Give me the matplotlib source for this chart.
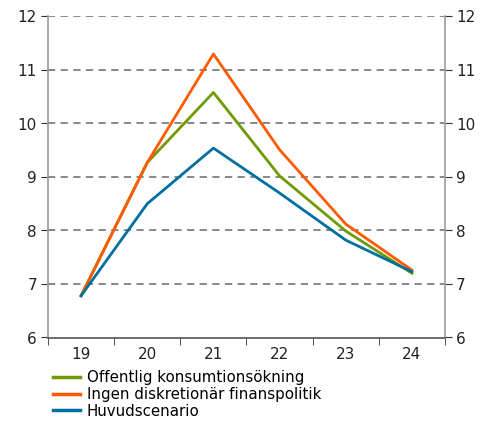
import matplotlib
matplotlib.use("Agg")
import matplotlib.pyplot as plt
from matplotlib.lines import Line2D

years = ["19", "20", "21", "22", "23", "24"]
offentlig = [6.78, 9.27, 10.58, 9.02, 7.99, 7.20]
ingen = [6.78, 9.27, 11.30, 9.51, 8.12, 7.26]
huvud = [6.78, 8.50, 9.54, 8.70, 7.82, 7.23]

series = [
    ("Offentlig konsumtionsökning", offentlig, "#6f9a00"),
    ("Ingen diskretionär finanspolitik", ingen, "#ff5a00"),
    ("Huvudscenario", huvud, "#00709f"),
]

plt.rcParams["font.family"] = ["DejaVu Sans"]
fig = plt.figure(figsize=(4.89, 4.23), dpi=100)
ax = fig.add_axes([48 / 489, 1 - 337.5 / 423, 397 / 489, 321 / 423])

x = list(range(len(years)))
for label, vals, color in series:
    ax.plot(x, vals, color=color, lw=2.0, label=label, zorder=3)

ax.set_xlim(-0.5, len(years) - 0.5)
ax.set_ylim(6, 12)
ax.set_yticks(range(6, 13))
for y in range(7, 13):
    ax.axhline(y, color="#7f7f7f", lw=1.3, ls=(0, (4, 3)), zorder=1)

ax.set_xticks(x)
ax.set_xticklabels(years)
ax.set_xticks([i - 0.5 for i in range(1, len(years))] + [-0.5, len(years) - 0.5], minor=True)
ax.tick_params(axis="x", which="major", length=0, pad=7, labelsize=11, colors="#222222")
ax.tick_params(axis="x", which="minor", length=5, direction="out", color="#333333")
ax.tick_params(axis="y", which="major", length=5, direction="out", labelsize=11,
               left=True, right=True, labelleft=True, labelright=True, color="#333333",
               labelcolor="#222222", pad=3)

for s in ["left", "right"]:
    ax.spines[s].set_color("#999999")
    ax.spines[s].set_linewidth(1.2)
ax.spines["bottom"].set_color("#555555")
ax.spines["bottom"].set_linewidth(1.2)
ax.spines["top"].set_visible(False)

handles = [Line2D([], [], color=c, lw=2.5) for _, _, c in series]
fig.legend(handles, [s[0] for s in series], loc="upper left",
           bbox_to_anchor=(53 / 489, 1 - 370 / 423), frameon=False,
           fontsize=10.8, handlelength=1.8, handletextpad=0.45,
           labelspacing=0.12, borderaxespad=0, borderpad=0)

fig.savefig("out.png", dpi=100)
